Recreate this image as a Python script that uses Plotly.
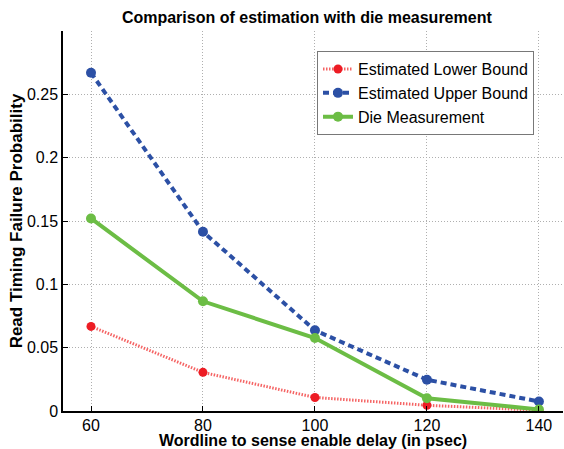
import plotly.graph_objects as go

delay = [60, 80, 100, 120, 140]
lower_bound = [0.0668, 0.0305, 0.0107, 0.0045, 0.0006]
upper_bound = [0.267, 0.1415, 0.0637, 0.0247, 0.0075]
die_measurement = [0.152, 0.0866, 0.0576, 0.0101, 0.0012]

x_ticks = [60, 80, 100, 120, 140]
y_ticks = [0, 0.05, 0.1, 0.15, 0.2, 0.25]
y_tick_labels = ["0", "0.05", "0.1", "0.15", "0.2", "0.25"]

FONT = "Liberation Sans, Arial, Helvetica, sans-serif"

fig = go.Figure()
fig.add_trace(go.Scatter(
    x=delay, y=lower_bound, name="Estimated Lower Bound", mode="lines+markers",
    line=dict(color="rgb(245,100,100)", width=3, dash="1.5px,1.5px"),
    marker=dict(color="rgb(237,28,36)", size=9),
))
fig.add_trace(go.Scatter(
    x=delay, y=upper_bound, name="Estimated Upper Bound", mode="lines+markers",
    line=dict(color="rgb(44,80,165)", width=4, dash="6px,4px"),
    marker=dict(color="rgb(44,80,165)", size=10),
))
fig.add_trace(go.Scatter(
    x=delay, y=die_measurement, name="Die Measurement", mode="lines+markers",
    line=dict(color="rgb(108,189,69)", width=4),
    marker=dict(color="rgb(108,189,69)", size=10),
))

fig.update_layout(
    width=564, height=449,
    margin=dict(l=63, r=1, t=31, b=38, pad=0, autoexpand=False),
    paper_bgcolor="white", plot_bgcolor="white",
    font=dict(family=FONT, color="black"),
    title=dict(text="<b>Comparison of estimation with die measurement</b>",
               x=0.544, xanchor="center", y=0.962, yanchor="middle",
               yref="container", automargin=False,
               font=dict(size=16, family=FONT)),
    showlegend=True,
    legend=dict(x=0.508, y=0.947, xanchor="left", yanchor="top",
                bgcolor="white", bordercolor="rgb(120,120,120)", borderwidth=1,
                font=dict(size=16, family=FONT), tracegroupgap=0,
                itemwidth=30),
)

fig.update_xaxes(
    range=[55, 144.3], tickvals=x_ticks, ticks="inside", ticklen=5,
    tickcolor="black", showline=True, linecolor="black", linewidth=1.5,
    showgrid=True, gridcolor="rgb(175,175,175)", gridwidth=1, griddash="1px,2px",
    zeroline=False, tickfont=dict(size=16, family=FONT), automargin=False,
    ticklabelstandoff=-1,
    title=dict(text="<b>Wordline to sense enable delay (in psec)</b>",
               font=dict(size=16, family=FONT), standoff=3),
)
fig.update_yaxes(
    range=[0, 0.3], tickvals=y_ticks, ticktext=y_tick_labels, ticks="inside",
    ticklen=5, tickcolor="black", showline=True, linecolor="black", linewidth=1.5,
    showgrid=True, gridcolor="rgb(175,175,175)", gridwidth=1, griddash="1px,2px",
    zeroline=False, tickfont=dict(size=16, family=FONT), automargin=False,
    title=dict(text="<b>Read Timing Failure Probability</b>",
               font=dict(size=17, family=FONT), standoff=0),
)

fig.write_html("out.html", config={"displayModeBar": False},
               post_script="document.body.style.margin='0px';")
